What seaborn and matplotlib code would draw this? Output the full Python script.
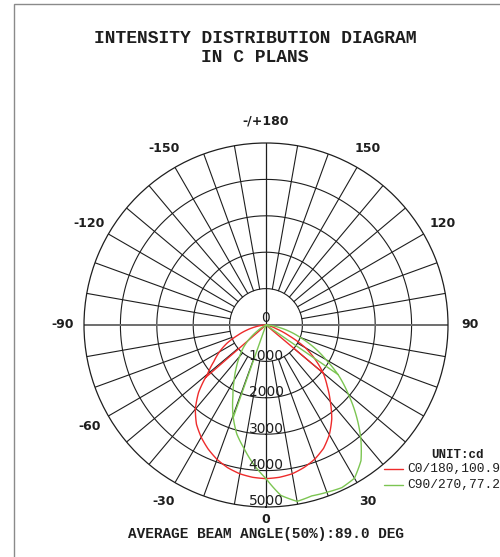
import numpy as np
import matplotlib
matplotlib.use("Agg")
import matplotlib.pyplot as plt
import matplotlib.patches as mpatches
from matplotlib.lines import Line2D
import seaborn as sns

# --- data (gamma angle in deg, intensity in cd) ---
gamma = [0, 5, 10, 15, 20, 25, 30, 35, 40, 45, 50, 55, 60, 65, 70, 75, 80, 85, 90]
cd_c0 = [4220, 4200, 4150, 4050, 3920, 3740, 3480, 3150, 2750, 2380, 2050,
         1650, 1250, 700, 300, 130, 50, 10, 0]
cd_c180 = [4220, 4200, 4150, 4060, 3930, 3760, 3560, 3330, 3020, 2620, 2100,
           1750, 1480, 1180, 830, 550, 300, 120, 0]
cd_c90 = [4220, 4700, 4920, 4860, 4890, 4930, 4860, 4550, 4050, 3500, 2950,
          2450, 1900, 1450, 1000, 650, 330, 100, 0]
cd_c270 = [4220, 3850, 3450, 3100, 2650, 2150, 1750, 1420, 1130, 880, 600,
           300, 100, 30, 0, 0, 0, 0, 0]
# gamma where each half-plane's outline closes back to the origin
close_c0, close_c180, close_c90, close_c270 = 50, 49, 55.5, 19.5

rings = [1000, 2000, 3000, 4000, 5000]
angle_ticks = [0, 30, 60, 90, 120, 150, 180, -150, -120, -90, -60, -30]
angle_labels = ["0", "30", "", "90", "120", "150", "-/+180", "-150", "-120", "-90", "-60", "-30"]
legend_names = ["C0/180,100.9", "C90/270,77.2"]

RED = "#ee2b2b"
GREEN = "#7cc552"
INK = "#1e1e1e"

sns.set_theme(style="white")
plt.rcParams["font.family"] = ["DejaVu Sans"]
MONO = "Liberation Mono"

W, H = 500, 557
fig = plt.figure(figsize=(W / 100, H / 100), dpi=100)
cx, cy, R = 266, 325, 182
ax = fig.add_axes([(cx - R) / W, (H - cy - R) / H, 2 * R / W, 2 * R / H], projection="polar")
ax.set_theta_zero_location("S")
ax.set_ylim(0, 5000)
ax.set_xticks([])
ax.set_yticks([])
ax.grid(False)
ax.set_facecolor("white")
ax.spines["polar"].set_linewidth(0.9)
ax.spines["polar"].set_color(INK)

# grid rings and spokes
t = np.linspace(0, 2 * np.pi, 361)
for r in rings[:-1]:
    ax.plot(t, np.full_like(t, r), color=INK, lw=0.8, zorder=1)
for a in range(-170, 181, 10):
    if a % 90 == 0:
        continue
    ax.plot([np.deg2rad(a)] * 2, [rings[0], rings[-1]], color=INK, lw=0.8, zorder=1)
for a in (0, 180):
    ax.plot([np.deg2rad(a)] * 2, [0, rings[-1]], color=INK, lw=0.9, zorder=1)
for a in (90, -90):
    ax.plot([np.deg2rad(a)] * 2, [0, rings[-1]], color="#6e6e6e", lw=1.4, zorder=1)


def plane_path(cd, sign, close_at):
    g = [sign * v for v in gamma] + [sign * close_at, sign * close_at]
    c = list(cd) + [0, float(np.interp(close_at, gamma, cd))]
    return np.deg2rad(g), c


n_before = len(ax.lines)
for cd, sign, close_at, color in [(cd_c0, 1, close_c0, RED), (cd_c180, -1, close_c180, RED),
                                  (cd_c90, 1, close_c90, GREEN), (cd_c270, -1, close_c270, GREEN)]:
    th, rr = plane_path(cd, sign, close_at)
    sns.lineplot(x=th, y=rr, sort=False, estimator=None, color=color, lw=1.0,
                 ax=ax, legend=False, zorder=3)
for ln in ax.lines[n_before:]:
    ln.get_path()._interpolation_steps = 12

# ring labels along the 0 direction
ax.annotate("0", (0, 0), xytext=(0, 5), textcoords="offset points", ha="center",
            va="center", fontsize=10, color=INK, zorder=5)
for r in rings:
    ax.annotate(str(r), (0, r), xytext=(0, 4), textcoords="offset points", ha="center",
                va="center", fontsize=10, color=INK, zorder=5)

# angle labels
for a, lab in zip(angle_ticks, angle_labels):
    rad = 5330 if a == 0 else 5600
    ax.text(np.deg2rad(a), rad, lab, ha="center", va="center", fontsize=9,
            fontweight="bold", color=INK)

# titles
fig.text(0.51, 1 - 48 / H, "INTENSITY DISTRIBUTION DIAGRAM\nIN C PLANS", ha="center",
         va="center", family=MONO, fontweight="bold", fontsize=13, linespacing=1.1, color=INK)
fig.text(cx / W, 1 - 534 / H, "AVERAGE BEAM ANGLE(50%):89.0 DEG", ha="center", va="center",
         family=MONO, fontweight="bold", fontsize=10.4, color=INK)

# legend
fig.text(457 / W, 1 - 455 / H, "UNIT:cd", ha="center", va="center", family=MONO,
         fontweight="bold", fontsize=9, color=INK)
for i, (name, color) in enumerate(zip(legend_names, [RED, GREEN])):
    y = 1 - (469 + 16 * i) / H
    fig.add_artist(Line2D([384 / W, 403 / W], [y, y], color=color, lw=1.0))
    fig.text(407 / W, y, name, ha="left", va="center", family=MONO, fontsize=9.3, color=INK)

# frame
fig.add_artist(mpatches.Rectangle((14 / W, -0.05), 1.0, 1.05 - 4 / H, fill=False,
                                  edgecolor="#8a8a8a", lw=1.0, transform=fig.transFigure))

fig.savefig("out.png", dpi=100)
